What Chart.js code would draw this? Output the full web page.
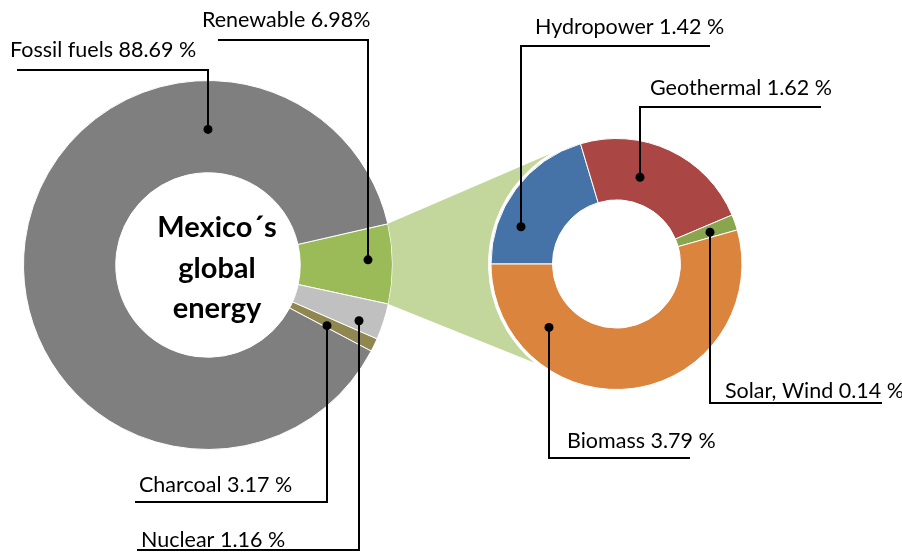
<!DOCTYPE html>
<html><head><meta charset="utf-8">
<script src="https://cdn.jsdelivr.net/npm/chart.js@4.4.0/dist/chart.umd.min.js"></script>
<style>
html,body{margin:0;padding:0;background:#fff;overflow:hidden}
#wrap{position:relative;width:902px;height:552px}
canvas{position:absolute;left:0;top:0}
</style></head><body>
<div id="wrap"><canvas id="left" width="902" height="552"></canvas><canvas id="right" width="902" height="552"></canvas></div>
<script>
// ---- data ----
const leftCategories = ['Renewable', 'Charcoal', 'Nuclear', 'Fossil fuels'];
const leftValues = [6.98, 3.17, 1.16, 88.69];
const leftLabelText = ['Renewable 6.98%', 'Charcoal 3.17 %', 'Nuclear 1.16 %', 'Fossil fuels 88.69 %'];
const rightCategories = ['Hydropower', 'Geothermal', 'Solar, Wind', 'Biomass'];
const rightValues = [1.42, 1.62, 0.14, 3.79];
const rightLabelText = ['Hydropower 1.42 %', 'Geothermal 1.62 %', 'Solar, Wind 0.14 %', 'Biomass 3.79 %'];
const centerTitle = ['Mexico\u00B4s', 'global', 'energy'];

// ---- style ----
const leftColors = ['#9bbb59', '#c0c0c0', '#8f8650', '#7f7f7f'];
const rightColors = ['#4572a7', '#aa4643', '#89a54e', '#db843d'];
const connectorColor = '#c3d69b';
const FONT = 'Lato, "Open Sans", sans-serif';
const LABEL_SIZE = 21.5;

// leader layout: anchor slice, fraction along slice, fraction across ring, elbow y, end x, text x, text baseline
const leftLeaders = [
  {slice: 0, f: 0.44, rf: 0.74, elbowY: 40, endX: 218, tx: 202, ty: 27},
  {slice: 2, f: 0.80, rf: 0.45, elbowY: 502, endX: 135, tx: 139, ty: 492},
  {slice: 1, f: 0.71, rf: 0.74, elbowY: 550, endX: 137, tx: 141, ty: 547},
  {slice: 3, f: 0.758, rf: 0.47, elbowY: 70, endX: 17, tx: 10, ty: 57}
];
const rightLeaders = [
  {slice: 0, f: 0.29, rf: 0.63, elbowY: 46, endX: 710, tx: 535, ty: 34},
  {slice: 1, f: 0.38, rf: 0.42, elbowY: 107, endX: 821, tx: 650, ty: 95},
  {slice: 2, f: 0.57, rf: 0.56, elbowY: 403, endX: 882, tx: 725, ty: 398},
  {slice: 3, f: 0.78, rf: 0.47, elbowY: 458, endX: 690, tx: 567, ty: 448}
];

function anchorPoint(arc, f, rf) {
  const p = arc.getProps(['x', 'y', 'startAngle', 'endAngle', 'innerRadius', 'outerRadius'], true);
  const a = p.startAngle + f * (p.endAngle - p.startAngle);
  const r = p.innerRadius + rf * (p.outerRadius - p.innerRadius);
  return {x: p.x + r * Math.cos(a), y: p.y + r * Math.sin(a)};
}

function drawLeaders(chart, leaders, texts) {
  const ctx = chart.ctx;
  const arcs = chart.getDatasetMeta(0).data;
  ctx.save();
  ctx.strokeStyle = '#000';
  ctx.fillStyle = '#000';
  ctx.lineWidth = 2;
  ctx.font = LABEL_SIZE + 'px ' + FONT;
  ctx.textBaseline = 'alphabetic';
  ctx.textAlign = 'left';
  leaders.forEach((L, i) => {
    const p = anchorPoint(arcs[L.slice], L.f, L.rf);
    const x = Math.round(p.x);
    ctx.beginPath();
    ctx.moveTo(x, p.y);
    ctx.lineTo(x, L.elbowY);
    ctx.lineTo(L.endX, L.elbowY);
    ctx.stroke();
    ctx.beginPath();
    ctx.arc(x, p.y, 4.5, 0, Math.PI * 2);
    ctx.fill();
    ctx.fillText(texts[i], L.tx, L.ty);
  });
  ctx.restore();
}

const leftPlugin = {
  id: 'leftDeco',
  afterDraw(chart) {
    const ctx = chart.ctx;
    const arc = chart.getDatasetMeta(0).data[0];
    const c = arc.getProps(['x', 'y'], true);
    ctx.save();
    ctx.fillStyle = '#000';
    ctx.font = 'bold 29px ' + FONT;
    ctx.textAlign = 'center';
    ctx.textBaseline = 'alphabetic';
    centerTitle.forEach((t, i) => ctx.fillText(t, c.x + 9, c.y - 28 + i * 40.5));
    ctx.restore();
    drawLeaders(chart, leftLeaders, leftLabelText);
  }
};

let leftChart;
const rightPlugin = {
  id: 'rightDeco',
  beforeDatasetsDraw(chart) {
    if (!leftChart) return;
    const la = leftChart.getDatasetMeta(0).data[0].getProps(['x', 'y', 'startAngle', 'endAngle', 'outerRadius'], true);
    const ra = chart.getDatasetMeta(0).data[0].getProps(['x', 'y', 'outerRadius'], true);
    const ctx = chart.ctx;
    const R = ra.outerRadius + 3;
    const t1 = 239 * Math.PI / 180, t2 = 130 * Math.PI / 180;
    ctx.save();
    ctx.fillStyle = connectorColor;
    ctx.beginPath();
    ctx.moveTo(la.x + la.outerRadius * Math.cos(la.startAngle), la.y + la.outerRadius * Math.sin(la.startAngle));
    ctx.lineTo(ra.x + R * Math.cos(t1), ra.y + R * Math.sin(t1));
    ctx.arc(ra.x, ra.y, R, t1, t2, true);
    ctx.lineTo(la.x + la.outerRadius * Math.cos(la.endAngle), la.y + la.outerRadius * Math.sin(la.endAngle));
    ctx.arc(la.x, la.y, la.outerRadius, la.endAngle, la.startAngle, true);
    ctx.closePath();
    ctx.fill();
    ctx.restore();
  },
  afterDraw(chart) {
    drawLeaders(chart, rightLeaders, rightLabelText);
  }
};

const common = {
  responsive: false,
  animation: false,
  plugins: {legend: {display: false}, tooltip: {enabled: false}}
};

leftChart = new Chart(document.getElementById('left'), {
  type: 'doughnut',
  data: {labels: leftCategories, datasets: [{data: leftValues, backgroundColor: leftColors, borderColor: '#ffffff', borderWidth: 1}]},
  options: Object.assign({}, common, {
    cutout: '50%',
    rotation: 77.1,
    layout: {padding: {left: 23, right: 509, top: 80, bottom: 102}}
  }),
  plugins: [leftPlugin]
});

new Chart(document.getElementById('right'), {
  type: 'doughnut',
  data: {labels: rightCategories, datasets: [{data: rightValues, backgroundColor: rightColors, borderColor: '#ffffff', borderWidth: 1}]},
  options: Object.assign({}, common, {
    cutout: '51%',
    rotation: 270,
    layout: {padding: {left: 490, right: 159, top: 138, bottom: 162}}
  }),
  plugins: [rightPlugin]
});
</script>
</body></html>
